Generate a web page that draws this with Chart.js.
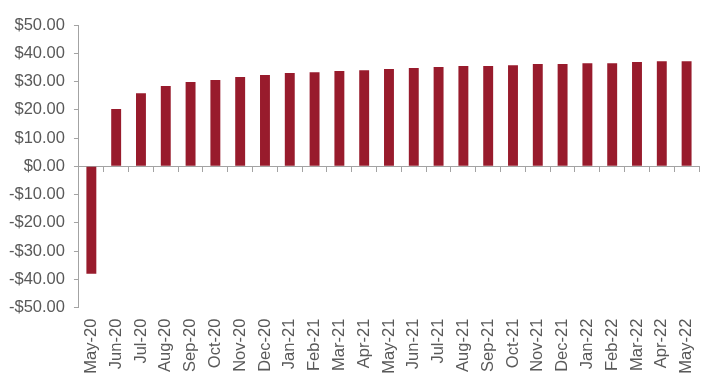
<!DOCTYPE html>
<html>
<head>
<meta charset="utf-8">
<script src="https://cdn.jsdelivr.net/npm/chart.js@4/dist/chart.umd.min.js"></script>
<style>
  html, body { margin: 0; padding: 0; background: #ffffff; }
  #wrap { width: 715px; height: 387px; position: relative; }
</style>
</head>
<body>
<div id="wrap"><canvas id="c"></canvas></div>
<script>
const categories = ["May-20","Jun-20","Jul-20","Aug-20","Sep-20","Oct-20","Nov-20","Dec-20",
  "Jan-21","Feb-21","Mar-21","Apr-21","May-21","Jun-21","Jul-21","Aug-21","Sep-21","Oct-21",
  "Nov-21","Dec-21","Jan-22","Feb-22","Mar-22","Apr-22","May-22"];
const values = [-38.0, 20.3, 25.9, 28.4, 29.8, 30.5, 31.6, 32.3,
  33.0, 33.3, 33.7, 34.0, 34.4, 34.8, 35.1, 35.5, 35.5, 35.8,
  36.2, 36.2, 36.5, 36.5, 36.9, 37.2, 37.2];
const yMin = -50, yMax = 50, yStep = 10;

const textColor = '#595959';
const axisColor = '#A3A3A3';
const barColor = '#981B2C';
const font = { family: '"Liberation Sans", Arial, sans-serif', size: 16.5 };

function fmt(v) {
  const s = '$' + Math.abs(v).toFixed(2);
  return v < 0 ? '-' + s : s;
}

new Chart(document.getElementById('c'), {
  type: 'bar',
  data: {
    labels: categories,
    datasets: [{
      data: values,
      backgroundColor: barColor,
      borderWidth: 0,
      barPercentage: 0.4,
      categoryPercentage: 1.0
    }]
  },
  options: {
    responsive: true,
    maintainAspectRatio: false,
    animation: false,
    devicePixelRatio: 1,
    layout: { padding: { left: 0, right: 16, top: 25, bottom: 13.3 } },
    plugins: { legend: { display: false }, tooltip: { enabled: false } },
    scales: {
      x: {
        type: 'category',
        offset: true,
        position: 'bottom',
        grid: { display: true, drawOnChartArea: false, drawTicks: true, tickLength: 11, color: 'rgba(0,0,0,0)' },
        border: { display: false },
        ticks: {
          color: textColor, font: font,
          minRotation: 90, maxRotation: 90,
          padding: 0, autoSkip: false
        }
      },
      x2: {
        type: 'category',
        offset: true,
        position: { y: 0 },
        grid: {
          offset: true, drawOnChartArea: false, drawTicks: true,
          tickLength: 5, color: axisColor, lineWidth: 1
        },
        border: { display: true, color: axisColor, width: 1 },
        ticks: { display: false }
      },
      y: {
        min: yMin, max: yMax,
        grid: { drawOnChartArea: false, drawTicks: true, tickLength: 5, color: axisColor },
        border: { display: true, color: axisColor, width: 1 },
        ticks: {
          stepSize: yStep, color: textColor, font: font, padding: 9,
          callback: (v) => fmt(v)
        }
      }
    }
  }
});
</script>
</body>
</html>
